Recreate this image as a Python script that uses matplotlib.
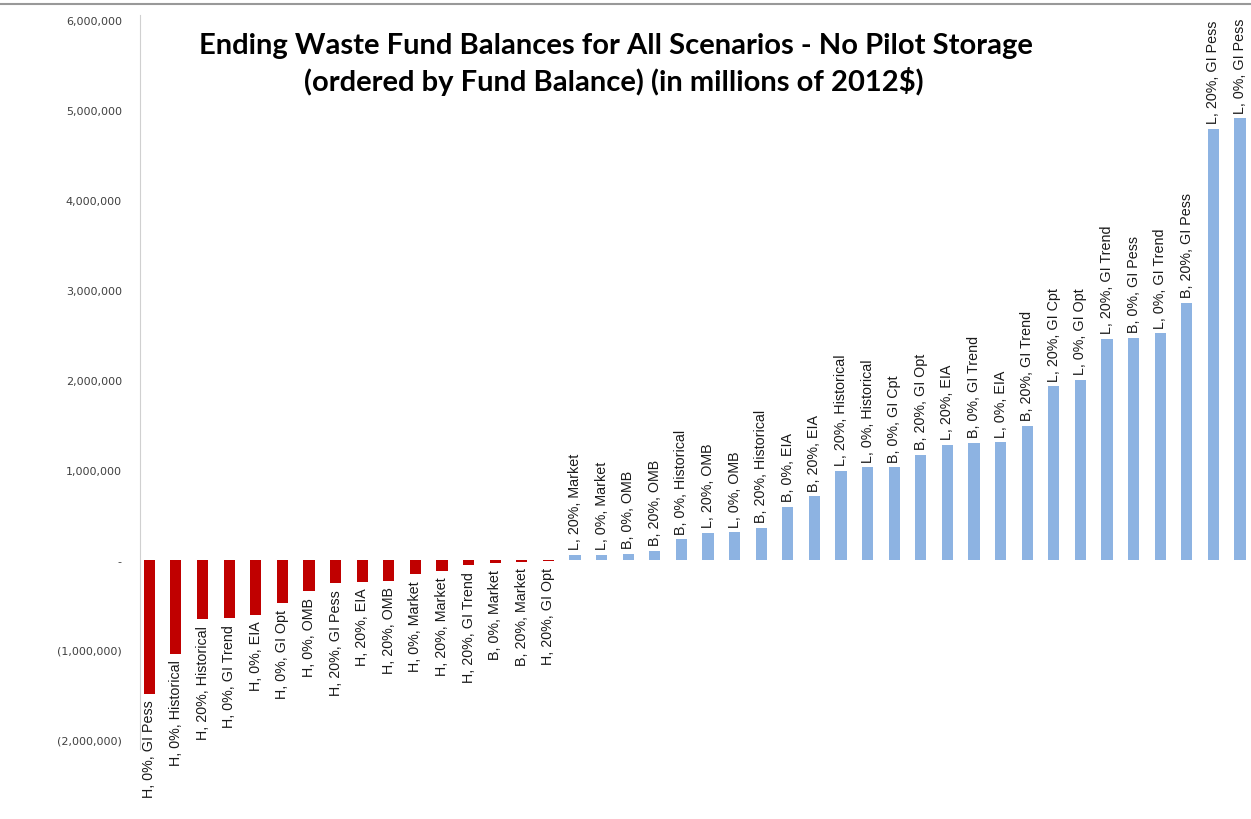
import matplotlib
matplotlib.use("Agg")
from matplotlib import pyplot as plt
from matplotlib.ticker import FuncFormatter

scenarios = [
    "H, 0%, GI Pess", "H, 0%, Historical", "H, 20%, Historical", "H, 0%, GI Trend",
    "H, 0%, EIA", "H, 0%, GI Opt", "H, 0%, OMB", "H, 20%, GI Pess",
    "H, 20%, EIA", "H, 20%, OMB", "H, 0%, Market", "H, 20%, Market",
    "H, 20%, GI Trend", "B, 0%, Market", "B, 20%, Market", "H, 20%, GI Opt",
    "L, 20%, Market", "L, 0%, Market", "B, 0%, OMB", "B, 20%, OMB",
    "B, 0%, Historical", "L, 20%, OMB", "L, 0%, OMB", "B, 20%, Historical",
    "B, 0%, EIA", "B, 20%, EIA", "L, 20%, Historical", "L, 0%, Historical",
    "B, 0%, GI Cpt", "B, 20%, GI Opt", "L, 20%, EIA", "B, 0%, GI Trend",
    "L, 0%, EIA", "B, 20%, GI Trend", "L, 20%, GI Cpt", "L, 0%, GI Opt",
    "L, 20%, GI Trend", "B, 0%, GI Pess", "L, 0%, GI Trend", "B, 20%, GI Pess",
    "L, 20%, GI Pess", "L, 0%, GI Pess",
]
balances = [
    -1490000, -1040000, -660000, -650000, -610000, -480000, -350000, -260000,
    -240000, -230000, -160000, -120000, -60000, -35000, -22000, -15000,
    60000, 60000, 70000, 100000, 230000, 300000, 310000, 360000,
    590000, 710000, 990000, 1030000, 1030000, 1170000, 1280000, 1300000,
    1310000, 1490000, 1930000, 2000000, 2460000, 2470000, 2520000, 2860000,
    4790000, 4910000,
]

def fmt(v, pos):
    if abs(v) < 1:
        return "-"
    if v < 0:
        return "({:,.0f})".format(-v)
    return "{:,.0f}".format(v)

fig = plt.figure(figsize=(12.51, 8.20), dpi=100)
ax = fig.add_axes([0.1119, 0.0854, 0.8889, 0.8945])

x = list(range(len(balances)))
colors = ["#C00000" if v < 0 else "#8DB3E2" for v in balances]
ax.bar(x, balances, width=0.42, color=colors)

for xi, v, name in zip(x, balances, scenarios):
    if v < 0:
        ax.annotate(name, (xi, v), xytext=(0, -4), textcoords="offset points",
                    rotation=90, ha="center", va="top", fontsize=10.3,
                    family="Liberation Sans", color="#1a1a1a")
    else:
        ax.annotate(name, (xi, v), xytext=(0, 4), textcoords="offset points",
                    rotation=90, ha="center", va="bottom", fontsize=10.3,
                    family="Liberation Sans", color="#1a1a1a")

ax.set_xlim(-0.35, 41.45)
ax.set_ylim(-2100000, 6050000)
ax.set_yticks(range(-2000000, 6000001, 1000000))
ax.yaxis.set_major_formatter(FuncFormatter(fmt))
ax.tick_params(axis="y", length=0, pad=13, labelsize=8, labelcolor="#404040")
ax.set_xticks([])
for s in ["top", "right", "bottom"]:
    ax.spines[s].set_visible(False)
ax.spines["left"].set_color("#d0d0d0")

fig.text(0.492, 0.944, "Ending Waste Fund Balances for All Scenarios - No Pilot Storage",
         ha="center", va="center", fontsize=21, fontweight="bold", family="Lato")
fig.text(0.491, 0.900, "(ordered by Fund Balance) (in millions of 2012$)",
         ha="center", va="center", fontsize=21, fontweight="bold", family="Lato")

fig.add_artist(plt.Line2D([0, 1], [0.994, 0.994], color="#999999", lw=1.5))

fig.savefig("out.png", dpi=100)
